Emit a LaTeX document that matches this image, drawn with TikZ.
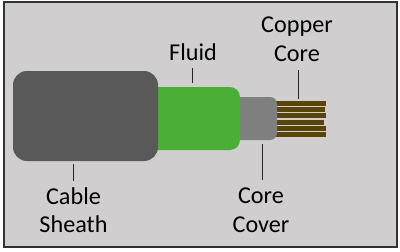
\documentclass[tikz,border=0pt]{standalone}
\usepackage{fontspec}
\setmainfont{Carlito}
\definecolor{panel}{HTML}{D0CECE}
\definecolor{sheathgrey}{HTML}{595959}
\definecolor{fluidgreen}{HTML}{4BAE37}
\definecolor{covergrey}{HTML}{7F7F7F}
\definecolor{copper}{HTML}{5A4508}
\tikzset{
  part/.style={draw=none, inner sep=0pt, outer sep=0pt},
  wire/.style={part, fill=copper, draw=none, anchor=west, minimum height=5pt},
  leader/.style={draw=black!85, line width=1pt},
  caption/.style={font=\fontsize{24.2}{28.5}\selectfont, align=center, text=black, inner sep=0pt}
}
\begin{document}
\begin{tikzpicture}[x=1pt, y=-1pt]
\useasboundingbox (0,0) rectangle (400,252);
\fill[white] (0,0) rectangle (400,252);
% panel
\node[part, fill=panel, draw=black!80, line width=1.6pt, minimum width=393pt, minimum height=244.5pt] (frame) at (200.5,124.5) {};
% copper strands, drawn under the cover
\node[wire, minimum width=52pt] (w1) at (274,103.2) {};
\node[wire, minimum width=51pt] (w2) at (274,109.5) {};
\node[wire, minimum width=52pt] (w3) at (274,115.8) {};
\node[wire, minimum width=50pt] (w4) at (274,122.1) {};
\node[wire, minimum width=52pt] (w5) at (274,128.4) {};
\node[wire, minimum width=52pt] (w6) at (274,134.7) {};
% cable layers, innermost first
\node[part, fill=covergrey, rounded corners=7pt, minimum width=47pt, minimum height=43pt] (cover) at (253.5,118.5) {};
\node[part, fill=fluidgreen, rounded corners=10pt, minimum width=92pt, minimum height=63pt] (fluid) at (194,118.5) {};
\node[part, fill=sheathgrey, rounded corners=14pt, minimum width=145pt, minimum height=90pt] (sheath) at (85.5,116) {};
% captions
\node[caption] (lfluid) at (193,52) {Fluid};
\node[caption] (lcopper) at (297,39) {Copper\\Core};
\node[caption] (lsheath) at (73.5,210) {Cable\\Sheath};
\node[caption] (lcover) at (261,210) {Core\\Cover};
% leader ends
\coordinate (fa) at (192,68);
\coordinate (fb) at (192,83);
\coordinate (ca) at (298,70);
\coordinate (cb) at (298,99);
\coordinate (sa) at (73,164);
\coordinate (sb) at (73,181);
\coordinate (va) at (262,144);
\coordinate (vb) at (262,180);
\draw[leader] (fa) -- (fb);
\draw[leader] (ca) -- (cb);
\draw[leader] (sa) -- (sb);
\draw[leader] (va) -- (vb);
\end{tikzpicture}
\end{document}
